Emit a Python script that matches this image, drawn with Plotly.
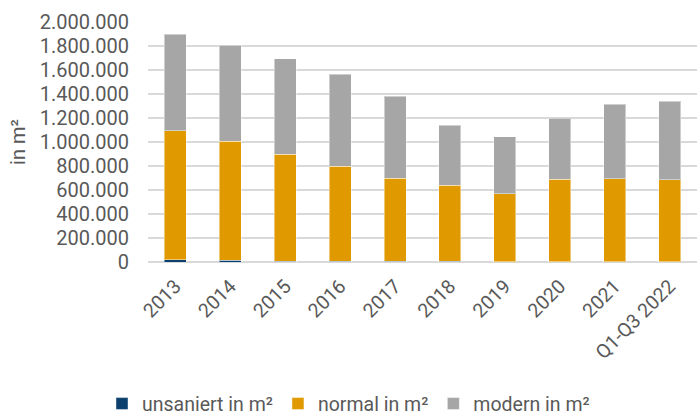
import plotly.graph_objects as go

categories = ["2013", "2014", "2015", "2016", "2017", "2018", "2019", "2020", "2021", "Q1-Q3 2022"]
unsaniert = [18000, 16000, 8000, 7000, 6000, 5000, 4000, 4000, 3000, 3000]
normal = [1076000, 992000, 889000, 793000, 694000, 634000, 565000, 687000, 691000, 683000]
modern = [804000, 800000, 797000, 764000, 683000, 500000, 475000, 509000, 622000, 655000]

colors = {"unsaniert": "#0B3F6E", "normal": "#E09A00", "modern": "#A6A6A6"}

fig = go.Figure()
for name, vals, key in [("unsaniert in m²", unsaniert, "unsaniert"),
                        ("normal in m²", normal, "normal"),
                        ("modern in m²", modern, "modern")]:
    fig.add_trace(go.Bar(
        x=categories, y=vals, name=name,
        marker=dict(color=colors[key], line=dict(color="rgba(255,255,255,0.45)", width=1)),
    ))

fig.update_layout(
    barmode="stack",
    bargap=0.6,
    width=697, height=419,
    margin=dict(l=148, r=0, t=22, b=157),
    paper_bgcolor="white", plot_bgcolor="white",
    separators=",.",
    font=dict(family="Roboto", color="#595959", size=20),
    showlegend=True,
    legend=dict(orientation="h", xref="container", x=0.5, xanchor="center",
                yref="container", y=0.036, yanchor="middle",
                font=dict(size=19.5, color="#595959"), itemwidth=30,
                traceorder="normal", tracegroupgap=0),
    xaxis=dict(tickangle=-45, tickfont=dict(size=19.5, color="#595959"),
               showgrid=False, showline=False, ticks="", ticklabelstandoff=8),
    yaxis=dict(range=[0, 2000000], dtick=200000, tickformat=",d",
               showgrid=True, gridcolor="#D9D9D9", gridwidth=1.5,
               zeroline=True, zerolinecolor="#D9D9D9", zerolinewidth=1.5,
               ticks="", ticklabelstandoff=18,
               tickfont=dict(size=20, color="#595959"),
               title=dict(text="in m²", font=dict(size=20, color="#595959"), standoff=8)),
)

fig.write_html("out.html")
